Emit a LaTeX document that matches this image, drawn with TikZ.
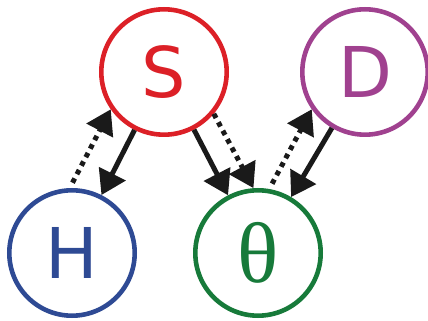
\documentclass[tikz,border=0pt]{standalone}
\usepackage{fontspec}
\setmainfont{DejaVu Sans}
\newfontfamily\thetafont{Liberation Serif}
\usetikzlibrary{arrows.meta}
\definecolor{sred}{HTML}{DC2027}
\definecolor{dpurple}{HTML}{A0418F}
\definecolor{hblue}{HTML}{2E4A94}
\definecolor{tgreen}{HTML}{177A3A}
\definecolor{ink}{HTML}{1A1A1A}
\begin{document}
\begin{tikzpicture}[x=1pt,y=1pt,
  var/.style={circle, draw, fill=white, line width=4.6pt, minimum size=125.4pt,
    inner sep=0pt, font=\fontsize{70}{70}\selectfont},
  dep/.style={draw=ink, line width=5pt, -{Triangle[length=24pt,width=29pt]}},
  dotdep/.style={dep, dash pattern=on 4.8pt off 4.8pt}]
\useasboundingbox (0,0) rectangle (428,321);
% variables
\node[var, draw=sred, text=sred] (S) at (164,249) {S};
\node[var, draw=dpurple, text=dpurple] (D) at (365,249) {D};
\node[var, draw=hblue, text=hblue] (H) at (72,68) {H};
\node[var, draw=tgreen, text=tgreen, font=\thetafont\fontsize{86}{86}\selectfont] (T) at (258,68) {θ};
% dependencies
\draw[dep] (S) -- (H);
\draw[dotdep, shorten <=6pt] (H.92) -- (S.215);
\draw[dep] (S) -- (T);
\draw[dotdep] (S.-40) -- (T.94);
\draw[dep] (D) -- (T);
\draw[dotdep, shorten <=6pt] (T.80) -- (D.215);
\end{tikzpicture}
\end{document}
